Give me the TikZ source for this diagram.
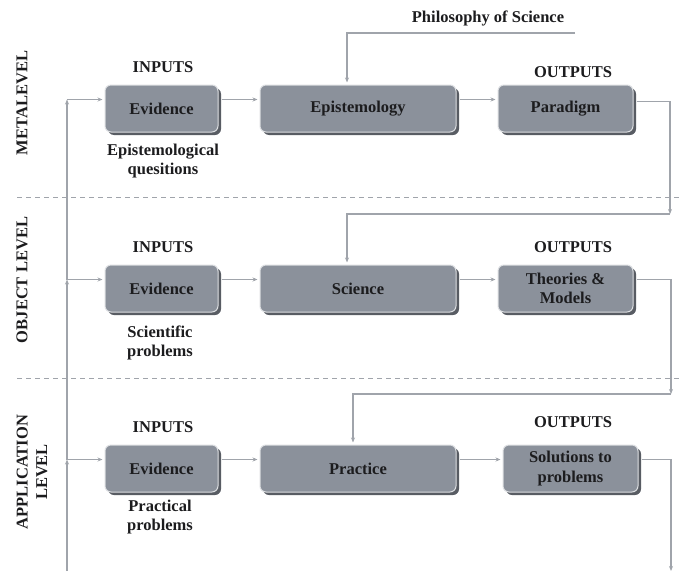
\documentclass[tikz,border=0pt]{standalone}
\usepackage{fontspec}
\setmainfont{Liberation Serif}
\usetikzlibrary{shadows,arrows.meta,positioning}
\definecolor{boxgray}{RGB}{139,145,155}
\definecolor{linegray}{RGB}{160,164,171}
\definecolor{shadowgray}{RGB}{88,92,99}
\definecolor{textdark}{RGB}{28,28,30}

\begin{document}
\begin{tikzpicture}
[x=1pt,y=-1pt,>={Stealth[length=5pt,width=4pt]},
every node/.style={font=\fontsize{16.5}{19.5}\selectfont\bfseries,text=textdark,align=center,inner sep=0pt},
box/.style={draw=white!70!boxgray,line width=1pt,fill=boxgray,rounded corners=6pt,minimum height=47pt,
	drop shadow={shadow xshift=3pt,shadow yshift=-3pt,fill=shadowgray,opacity=1}},
conn/.style={draw=linegray,line width=1.2pt},
sep/.style={draw=linegray,line width=1pt,dash pattern=on 5pt off 4pt}]

\useasboundingbox (0,0) rectangle (683,573);

% level separators
\draw[sep] (17,197) -- (683,197);
\draw[sep] (17,378) -- (683,378);

% level names
\node[rotate=90] (lmeta) at (22,103) {METALEVEL};
\node[rotate=90] (lobj) at (22,280) {OBJECT LEVEL};
\node[rotate=90] (lapp) at (32,472) {APPLICATION\\LEVEL};

% boxes
\node[box,minimum width=113pt] (ev1) at (161.5,108.5) {Evidence};
\node[box,minimum width=196pt] (epi) at (358,108.5) {Epistemology};
\node[box,minimum width=135pt] (par) at (565.5,108.5) {Paradigm};
\node[box,minimum width=113pt] (ev2) at (161.5,288.5) {Evidence};
\node[box,minimum width=196pt] (sci) at (358,288.5) {Science};
\node[box,minimum width=135pt] (the) at (565.5,288.5) {Theories \&\\Models};
\node[box,minimum width=113pt] (ev3) at (161.5,468.5) {Evidence};
\node[box,minimum width=196pt] (pra) at (358,468.5) {Practice};
\node[box,minimum width=135pt] (sol) at (570.5,468.5) {Solutions to\\problems};

% captions
\node (in1) at (163,67) {INPUTS};
\node (in2) at (163,247) {INPUTS};
\node (in3) at (163,427) {INPUTS};
\node (out1) at (573,72) {OUTPUTS};
\node (out2) at (573,247) {OUTPUTS};
\node (out3) at (573,422) {OUTPUTS};
\node (q1) at (163,161) {Epistemological\\quesitions};
\node (q2) at (160,343) {Scientific\\problems};
\node (q3) at (160,517) {Practical\\problems};
\node (phil) at (488,18) {Philosophy of Science};

\coordinate (p0) at (575,33);
\coordinate (c1) at (670,214);
\coordinate (c2) at (671,394);
\coordinate (c3) at (671,571);
\coordinate (fb) at (67,571);
\coordinate (f1) at (67,99.5);
\coordinate (f2) at (67,279.5);
\coordinate (f3) at (67,459.5);

\path[conn]
\foreach \startNode/\endNode in {ev1/epi,epi/par,ev2/sci,sci/the,ev3/pra,pra/sol}{
	([xshift=3pt,yshift=9pt]\startNode.east) edge[->] ([xshift=-2pt,yshift=9pt]\endNode.west)
};

\draw[conn,->] (p0) -| ([xshift=-11pt,yshift=2pt]epi.north);
\draw[conn,->] ([xshift=3pt,yshift=7pt]par.east) -| (c1);
\draw[conn,->] (c1) -| ([xshift=-11pt,yshift=2pt]sci.north);
\draw[conn,->] ([xshift=3pt,yshift=9pt]the.east) -| (c2);
\draw[conn,->] (c2) -| ([xshift=-5pt,yshift=2pt]pra.north);
\draw[conn,->] ([xshift=3pt,yshift=9pt]sol.east) -| (c3);

% feedback
\draw[conn,->] (fb) -- (f3);
\draw[conn,->] (f3) -- (f2);
\draw[conn,->] (f2) -- (f1);
\foreach \i in {1,2,3}
	\draw[conn,->] (f\i) -- ([xshift=-2pt,yshift=9pt]ev\i.west);
\end{tikzpicture}
\end{document}
